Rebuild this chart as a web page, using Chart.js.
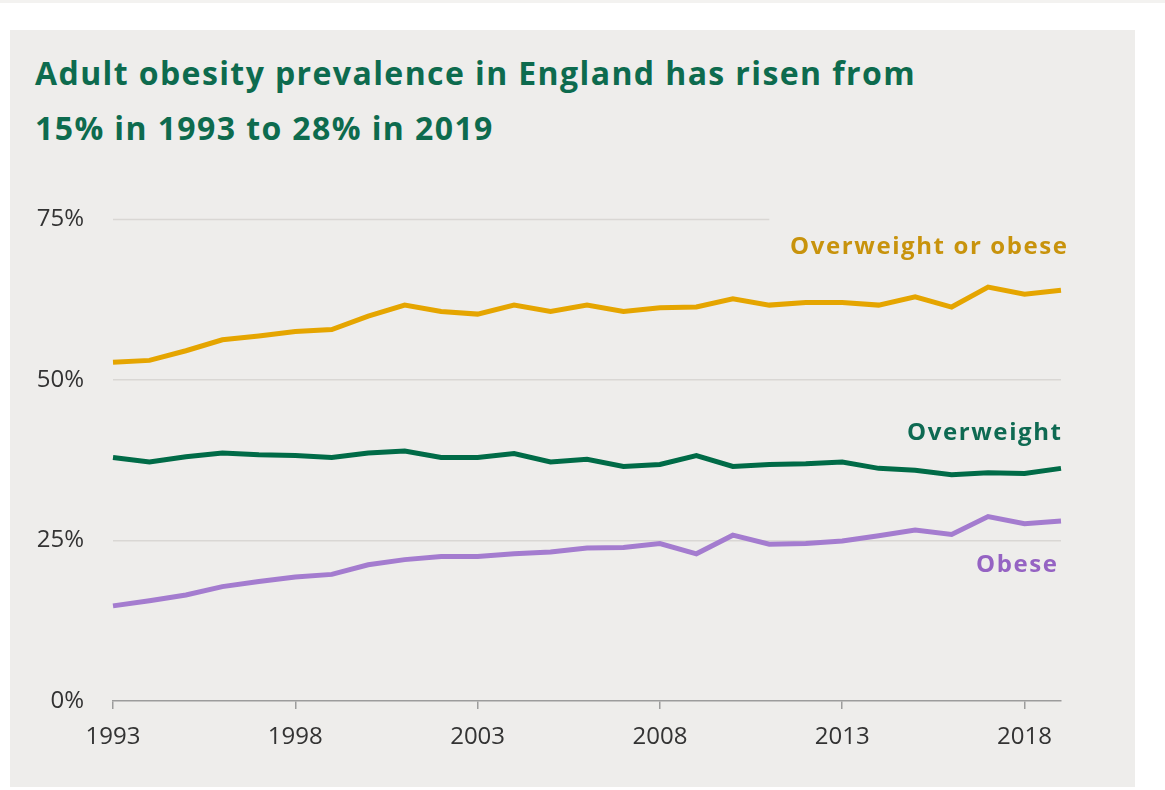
<!DOCTYPE html>
<html>
<head>
<meta charset="utf-8">
<title>Adult obesity prevalence in England</title>
<script src="https://cdn.jsdelivr.net/npm/chart.js@4/dist/chart.umd.min.js"></script>
<style>
  html, body { margin: 0; padding: 0; background: #ffffff; width: 1165px; height: 790px; overflow: hidden; }
  #strip { position: absolute; left: 0; top: 0; width: 1165px; height: 3px; background: #f3f2f0; }
  #panel { position: absolute; left: 10px; top: 30px; width: 1125px; height: 757px; background: #eeedeb; }
  h1 { position: absolute; left: 35px; top: 45px; margin: 0; font: 700 32px "Open Sans", sans-serif;
       color: #0d6b4e; line-height: 55px; white-space: nowrap; }
  #wrap { position: absolute; left: 0; top: 0; width: 1165px; height: 790px; }
</style>
</head>
<body>
<div id="strip"></div>
<div id="panel"></div>
<h1 id="title"><span>Adult obesity prevalence in England has risen from</span><br><span>15% in 1993 to 28% in 2019</span></h1>
<div id="wrap"><canvas id="chart" width="1165" height="790"></canvas></div>
<script>
// Survey years
const years = [1993, 1994, 1995, 1996, 1997, 1998, 1999, 2000, 2001, 2002, 2003, 2004, 2005,
               2006, 2007, 2008, 2009, 2010, 2011, 2012, 2013, 2014, 2015, 2016, 2017, 2018, 2019];

// Share of adults, %
const overweightOrObese = [52.7, 53.0, 54.5, 56.2, 56.8, 57.5, 57.8, 59.9, 61.6, 60.6, 60.2, 61.6, 60.6,
                           61.6, 60.6, 61.2, 61.3, 62.6, 61.6, 62.0, 62.0, 61.6, 62.9, 61.3, 64.4, 63.3, 63.9];
const overweight = [37.9, 37.2, 38.0, 38.6, 38.3, 38.2, 37.9, 38.6, 38.9, 37.9, 37.9, 38.5, 37.2,
                    37.6, 36.5, 36.8, 38.2, 36.5, 36.8, 36.9, 37.2, 36.2, 35.9, 35.2, 35.5, 35.4, 36.2];
const obese = [14.8, 15.6, 16.5, 17.8, 18.6, 19.3, 19.7, 21.2, 22.0, 22.5, 22.5, 22.9, 23.2,
               23.8, 23.9, 24.5, 22.9, 25.8, 24.4, 24.5, 24.9, 25.7, 26.6, 25.9, 28.7, 27.6, 28.0];

// Axis ticks
const yTicks = [0, 25, 50, 75];
const xLabelEvery = 5;

const COLORS = {
  overweightOrObese: '#e5a500', overweightOrObeseText: '#c8930c',
  overweight: '#006b47', overweightText: '#0e6a52',
  obese: '#a47ccf', obeseText: '#9563c3',
  grid: '#d9d7d4', axis: '#9c9c9c', tick: '#333333'
};

// Spread the first title line across the headline width
(function fitTitle() {
  const span = document.querySelector('#title span');
  const target = 881;
  const w = span.getBoundingClientRect().width;
  const n = span.textContent.length;
  const spacing = (target - w) / n;
  document.getElementById('title').style.letterSpacing = spacing.toFixed(2) + 'px';
})();

// Series names written at the right end of each line
const seriesLabels = [
  { text: 'Overweight or obese', color: COLORS.overweightOrObeseText, at: 69.5, dx: 6 },
  { text: 'Overweight', color: COLORS.overweightText, at: 40.6, dx: 0 },
  { text: 'Obese', color: COLORS.obeseText, at: 20.0, dx: -4 }
];

const seriesLabelPlugin = {
  id: 'seriesLabels',
  beforeDatasetsDraw(chart) {
    // top gridline stops short so the top label has room
    const { ctx, chartArea, scales } = chart;
    const y = Math.round(scales.y.getPixelForValue(75)) + 0.5;
    const xEnd = scales.x.getPixelForValue(years.indexOf(2011));
    ctx.save();
    ctx.strokeStyle = COLORS.grid;
    ctx.lineWidth = 1.5;
    ctx.beginPath();
    ctx.moveTo(chartArea.left, y);
    ctx.lineTo(xEnd, y);
    ctx.stroke();
    ctx.restore();
  },
  afterDatasetsDraw(chart) {
    const { ctx, chartArea, scales } = chart;
    ctx.save();
    ctx.font = '700 24px "Open Sans", sans-serif';
    ctx.letterSpacing = '1.6px';
    ctx.textAlign = 'right';
    ctx.textBaseline = 'alphabetic';
    seriesLabels.forEach(l => {
      ctx.fillStyle = l.color;
      ctx.fillText(l.text, chartArea.right + l.dx + 1.6, scales.y.getPixelForValue(l.at));
    });
    ctx.restore();
  }
};

const lineStyle = { borderWidth: 5, pointRadius: 0, tension: 0, borderJoinStyle: 'miter', fill: false };

new Chart(document.getElementById('chart'), {
  type: 'line',
  data: {
    labels: years,
    datasets: [
      { label: 'Overweight or obese', data: overweightOrObese, borderColor: COLORS.overweightOrObese, ...lineStyle },
      { label: 'Overweight', data: overweight, borderColor: COLORS.overweight, ...lineStyle },
      { label: 'Obese', data: obese, borderColor: COLORS.obese, ...lineStyle }
    ]
  },
  options: {
    responsive: false,
    devicePixelRatio: 1,
    animation: false,
    layout: { padding: { top: 219, right: 104, left: 0, bottom: 0 } },
    plugins: { legend: { display: false }, tooltip: { enabled: false }, title: { display: false } },
    scales: {
      x: {
        type: 'category',
        offset: false,
        afterFit(scale) { scale.height = 89; },
        border: { display: true, color: COLORS.axis, width: 1.5 },
        grid: {
          drawOnChartArea: false,
          drawTicks: true,
          tickLength: 8,
          lineWidth: 1.5,
          color: c => (c.index % xLabelEvery === 0 ? COLORS.axis : 'rgba(0,0,0,0)')
        },
        ticks: {
          autoSkip: false,
          maxRotation: 0,
          padding: 14,
          color: COLORS.tick,
          font: { family: '"Open Sans", sans-serif', size: 24 },
          callback: (v, i) => (i % xLabelEvery === 0 ? String(years[i]) : '')
        }
      },
      y: {
        min: yTicks[0],
        max: yTicks[yTicks.length - 1],
        afterFit(scale) { scale.width = 113; },
        afterBuildTicks(scale) { scale.ticks = yTicks.map(v => ({ value: v })); },
        border: { display: false },
        grid: {
          drawTicks: false,
          lineWidth: 1.5,
          color: c => (c.tick && (c.tick.value === 0 || c.tick.value === 75) ? 'rgba(0,0,0,0)' : COLORS.grid)
        },
        ticks: {
          padding: 29,
          color: COLORS.tick,
          font: { family: '"Open Sans", sans-serif', size: 24 },
          callback: v => v + '%'
        }
      }
    }
  },
  plugins: [seriesLabelPlugin]
});
</script>
</body>
</html>
